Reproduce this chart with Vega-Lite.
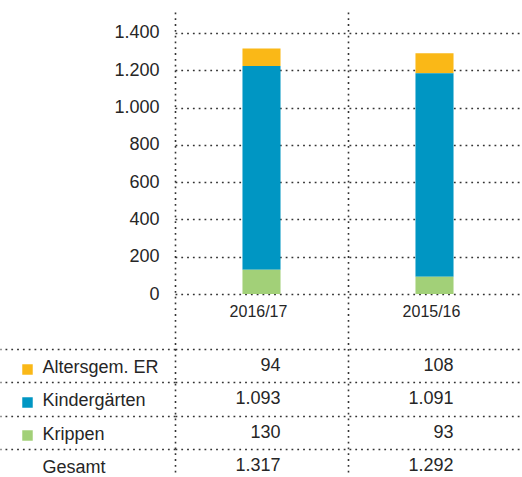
{
  "$schema": "https://vega.github.io/schema/vega-lite/v6.json",
  "autosize": {"type": "none"},
  "padding": {"top": 12, "left": 175, "right": 0, "bottom": 0},
  "width": 346,
  "height": 464,
  "config": {
    "locale": {"number": {"decimal": ",", "thousands": ".", "grouping": [3], "currency": ["", " €"]}},
    "view": {"stroke": null},
    "font": "Liberation Sans",
    "axis": {"labelFont": "Liberation Sans", "labelColor": "#262626", "gridColor": "#333333", "gridDash": [1.8, 4], "gridWidth": 1.6, "gridOpacity": 1, "tickColor": "#333333", "tickDash": [1.8, 4], "tickWidth": 1.6, "tickOpacity": 1}
  },
  "datasets": {
    "d": [
      {"jahr": "2016/17", "kategorie": "Altersgem. ER", "wert": 94, "rang": 3},
      {"jahr": "2016/17", "kategorie": "Kindergärten", "wert": 1093, "rang": 2},
      {"jahr": "2016/17", "kategorie": "Krippen", "wert": 130, "rang": 1},
      {"jahr": "2016/17", "kategorie": "Gesamt", "wert": 1317, "rang": 4},
      {"jahr": "2015/16", "kategorie": "Altersgem. ER", "wert": 108, "rang": 3},
      {"jahr": "2015/16", "kategorie": "Kindergärten", "wert": 1091, "rang": 2},
      {"jahr": "2015/16", "kategorie": "Krippen", "wert": 93, "rang": 1},
      {"jahr": "2015/16", "kategorie": "Gesamt", "wert": 1292, "rang": 4}
    ]
  },
  "data": {"name": "d"},
  "resolve": {"scale": {"y": "independent"}, "axis": {"x": "independent", "y": "independent"}},
  "layer": [
    {
      "transform": [{"filter": "datum.kategorie !== 'Gesamt'"}],
      "mark": {"type": "bar", "width": {"band": 0.22}},
      "encoding": {
        "x": {
          "field": "jahr", "type": "nominal", "sort": ["2016/17", "2015/16"],
          "scale": {"paddingInner": 0, "paddingOuter": 0},
          "axis": {"orient": "bottom", "title": null, "labels": false, "ticks": false, "domain": false, "grid": true, "bandPosition": 0}
        },
        "y": {
          "field": "wert", "type": "quantitative", "stack": "zero",
          "scale": {"domain": [-976.2, 1512.6], "nice": false, "zero": false},
          "axis": {"orient": "left", "title": null, "values": [0, 200, 400, 600, 800, 1000, 1200, 1400], "format": ",.0f", "ticks": false, "tickSize": 0, "domain": false, "labelPadding": 16, "labelFontSize": 18, "grid": true}
        },
        "color": {
          "field": "kategorie", "type": "nominal",
          "scale": {"domain": ["Altersgem. ER", "Kindergärten", "Krippen"], "range": ["#FAB817", "#0096C3", "#A2D078"]},
          "legend": {"orient": "none", "legendX": -153, "legendY": 352, "title": null, "symbolType": "square", "symbolSize": 110, "symbolStrokeWidth": 0, "symbolOpacity": 1, "labelExpr": "''", "labelFontSize": 1, "rowPadding": 22, "padding": 0}
        },
        "order": {"field": "rang", "type": "quantitative"}
      }
    },
    {
      "mark": {"type": "text", "align": "right", "dx": 19, "fontSize": 18, "color": "#262626"},
      "encoding": {
        "x": {
          "field": "jahr", "type": "nominal", "sort": ["2016/17", "2015/16"],
          "axis": {"orient": "top", "title": null, "domain": false, "ticks": false, "grid": false, "offset": -299, "labelPadding": 0, "labelBaseline": "middle", "labelOffset": -3, "labelFontSize": 16, "labelAngle": 0}
        },
        "y": {
          "field": "kategorie", "type": "nominal", "sort": ["Altersgem. ER", "Kindergärten", "Krippen", "Gesamt"],
          "scale": {"type": "band", "paddingInner": 0, "paddingOuter": 0, "range": [337, 471]},
          "axis": {"orient": "left", "title": null, "domain": false, "grid": true, "bandPosition": 0, "tickSize": 175, "labelAlign": "left", "labelBaseline": "middle", "labelPadding": -42, "labelOffset": 2, "labelFontSize": 18}
        },
        "text": {"field": "wert", "type": "quantitative", "format": ",.0f"}
      }
    }
  ]
}
